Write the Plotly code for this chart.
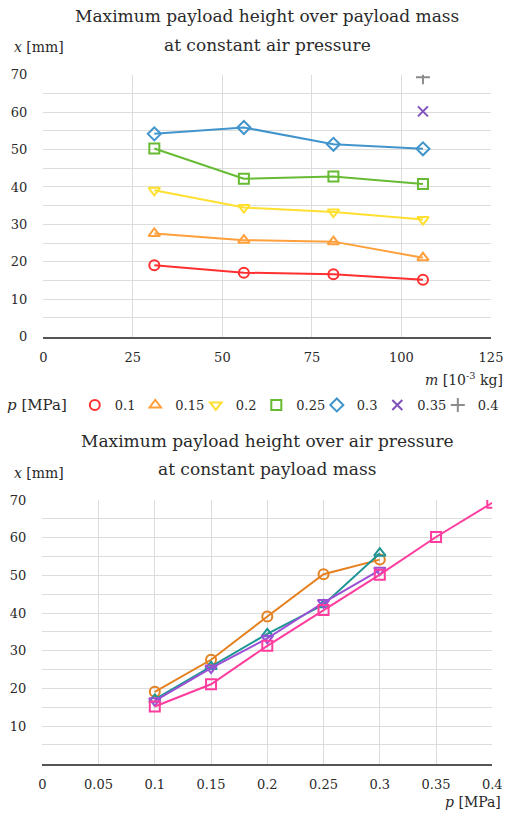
import plotly.graph_objects as go

# ---------------- data ----------------
masses = [31, 56, 81, 106]                # payload mass [10^-3 kg]
pressure_labels = ["0.1", "0.15", "0.2", "0.25", "0.3", "0.35", "0.4"]
pressures = [0.1, 0.15, 0.2, 0.25, 0.3, 0.35, 0.4]   # [MPa]

h_p010 = [19.1, 17.1, 16.7, 15.2]
h_p015 = [27.6, 25.8, 25.4, 21.1]
h_p020 = [39.1, 34.5, 33.3, 31.3]
h_p025 = [50.3, 42.2, 42.8, 40.8]
h_p030 = [54.2, 55.9, 51.4, 50.2]
h_p035 = [None, None, None, 60.2]
h_p040 = [None, None, None, 69.3]

h_m031 = [19.1, 27.6, 39.1, 50.3, 54.2]
h_m056 = [17.1, 25.8, 34.5, 42.2, 55.9]
h_m081 = [16.7, 25.4, 33.3, 42.8, 51.4]
h_m106 = [15.2, 21.1, 31.3, 40.8, 50.2, 60.2, 69.3]

top_series = [h_p010, h_p015, h_p020, h_p025, h_p030, h_p035, h_p040]
top_colors = ["#ff3030", "#ffa03c", "#ffdf30", "#66bb33", "#4195cc", "#8050bb", "#8c8c8c"]
top_symbols = ["circle-open", "triangle-up-open", "triangle-down-open", "square-open",
               "diamond-open", "x-thin-open", "cross-thin-open"]

bot_series = [h_m031, h_m056, h_m081, h_m106]
bot_names = ["31", "56", "81", "106"]
bot_colors = ["#e5801f", "#1f9595", "#9b50d6", "#ff3d9e"]
bot_symbols = ["circle-open", "triangle-up-open", "triangle-down-open", "square-open"]

FONT = "DejaVu Serif"
TXT = "#2a2a2a"
GRID = "#dcdcdc"

fig = go.Figure()

for lab, ys, c, s in zip(pressure_labels, top_series, top_colors, top_symbols):
    fig.add_trace(go.Scatter(
        x=masses, y=ys, name=lab, mode="lines+markers", legendgroup=lab,
        line=dict(color=c, width=2),
        marker=dict(symbol=s, size=10, color=c, line=dict(color=c, width=2)),
        xaxis="x", yaxis="y", showlegend=False))
    # legend entry (marker only)
    fig.add_trace(go.Scatter(
        x=[None], y=[None], name=lab, mode="markers", legendgroup=lab,
        marker=dict(symbol=s, size=10, color=c, line=dict(color=c, width=2)),
        xaxis="x", yaxis="y", showlegend=True))

for i, (nm, ys, c, s) in enumerate(zip(bot_names, bot_series, bot_colors, bot_symbols)):
    fig.add_trace(go.Scatter(
        x=pressures[:len(ys)], y=ys, name=nm, mode="lines+markers",
        line=dict(color=c, width=2),
        marker=dict(symbol=s, size=10, color=c, line=dict(color=c, width=2)),
        xaxis="x2", yaxis="y2", showlegend=False))

W, H = 510, 817
def px(x):
    return x / W
def py(y):
    return 1 - y / H

axis_common = dict(showgrid=True, gridcolor=GRID, gridwidth=1, zeroline=False,
                   ticks="", tickfont=dict(family=FONT, size=13, color=TXT),
                   fixedrange=True, automargin=False)
xcommon = dict(showline=True, linecolor="#555555", linewidth=1.5, ticklabelstandoff=8)
ycommon = dict(showline=False, ticklabelstandoff=15,
               minor=dict(dtick=5, showgrid=True, gridcolor=GRID))

fig.update_layout(
    width=W, height=H,
    margin=dict(l=0, r=0, t=0, b=0, autoexpand=False),
    paper_bgcolor="white", plot_bgcolor="white",
    font=dict(family=FONT, color=TXT),
    xaxis=dict(domain=[px(43.3), px(491)], range=[0, 125], dtick=25, anchor="y",
               **xcommon, **axis_common),
    yaxis=dict(domain=[py(336.7), py(74.7)], range=[0, 70], dtick=10, anchor="x",
               **ycommon, **axis_common),
    xaxis2=dict(domain=[px(42.3), px(492.3)], range=[0, 0.4],
                tickvals=[0, 0.05, 0.1, 0.15, 0.2, 0.25, 0.3, 0.35, 0.4],
                ticktext=["0", "0.05", "0.1", "0.15", "0.2", "0.25", "0.3", "0.35", "0.4"],
                anchor="y2", **xcommon, **axis_common),
    yaxis2=dict(domain=[py(763.7), py(500.1)], range=[0, 70],
                tickvals=[10, 20, 30, 40, 50, 60, 70], anchor="x2",
                **ycommon, **axis_common),
    legend=dict(orientation="h", x=px(5), xanchor="left", y=py(405), yanchor="middle",
                font=dict(family=FONT, size=13, color=TXT),
                title=dict(text="<i>p</i> [MPa]", side="left",
                           font=dict(family=FONT, size=15, color=TXT)),
                itemwidth=30, entrywidth=15.5, entrywidthmode="pixels",
                bgcolor="rgba(0,0,0,0)", tracegroupgap=0),
)

def ann(text, x, y, xanchor="center", size=17):
    fig.add_annotation(text=text, x=px(x), y=py(y), xref="paper", yref="paper",
                       xanchor=xanchor, yanchor="middle", showarrow=False,
                       font=dict(family=FONT, size=size, color=TXT))

ann("Maximum payload height over payload mass", 267, 16)
ann("at constant air pressure", 267, 45)
ann("<i>x</i> [mm]", 12, 47, xanchor="left", size=14)
ann("<i>m</i> [10<sup>-3</sup> kg]", 505, 379, xanchor="right", size=14)

ann("Maximum payload height over air pressure", 267, 441)
ann("at constant payload mass", 267, 469)
ann("<i>x</i> [mm]", 12, 473, xanchor="left", size=14)
ann("<i>p</i> [MPa]", 503, 802, xanchor="right", size=14)

fig.write_html("out.html", config={"displayModeBar": False},
               post_script="document.body.style.margin='0';document.body.style.padding='0';")
